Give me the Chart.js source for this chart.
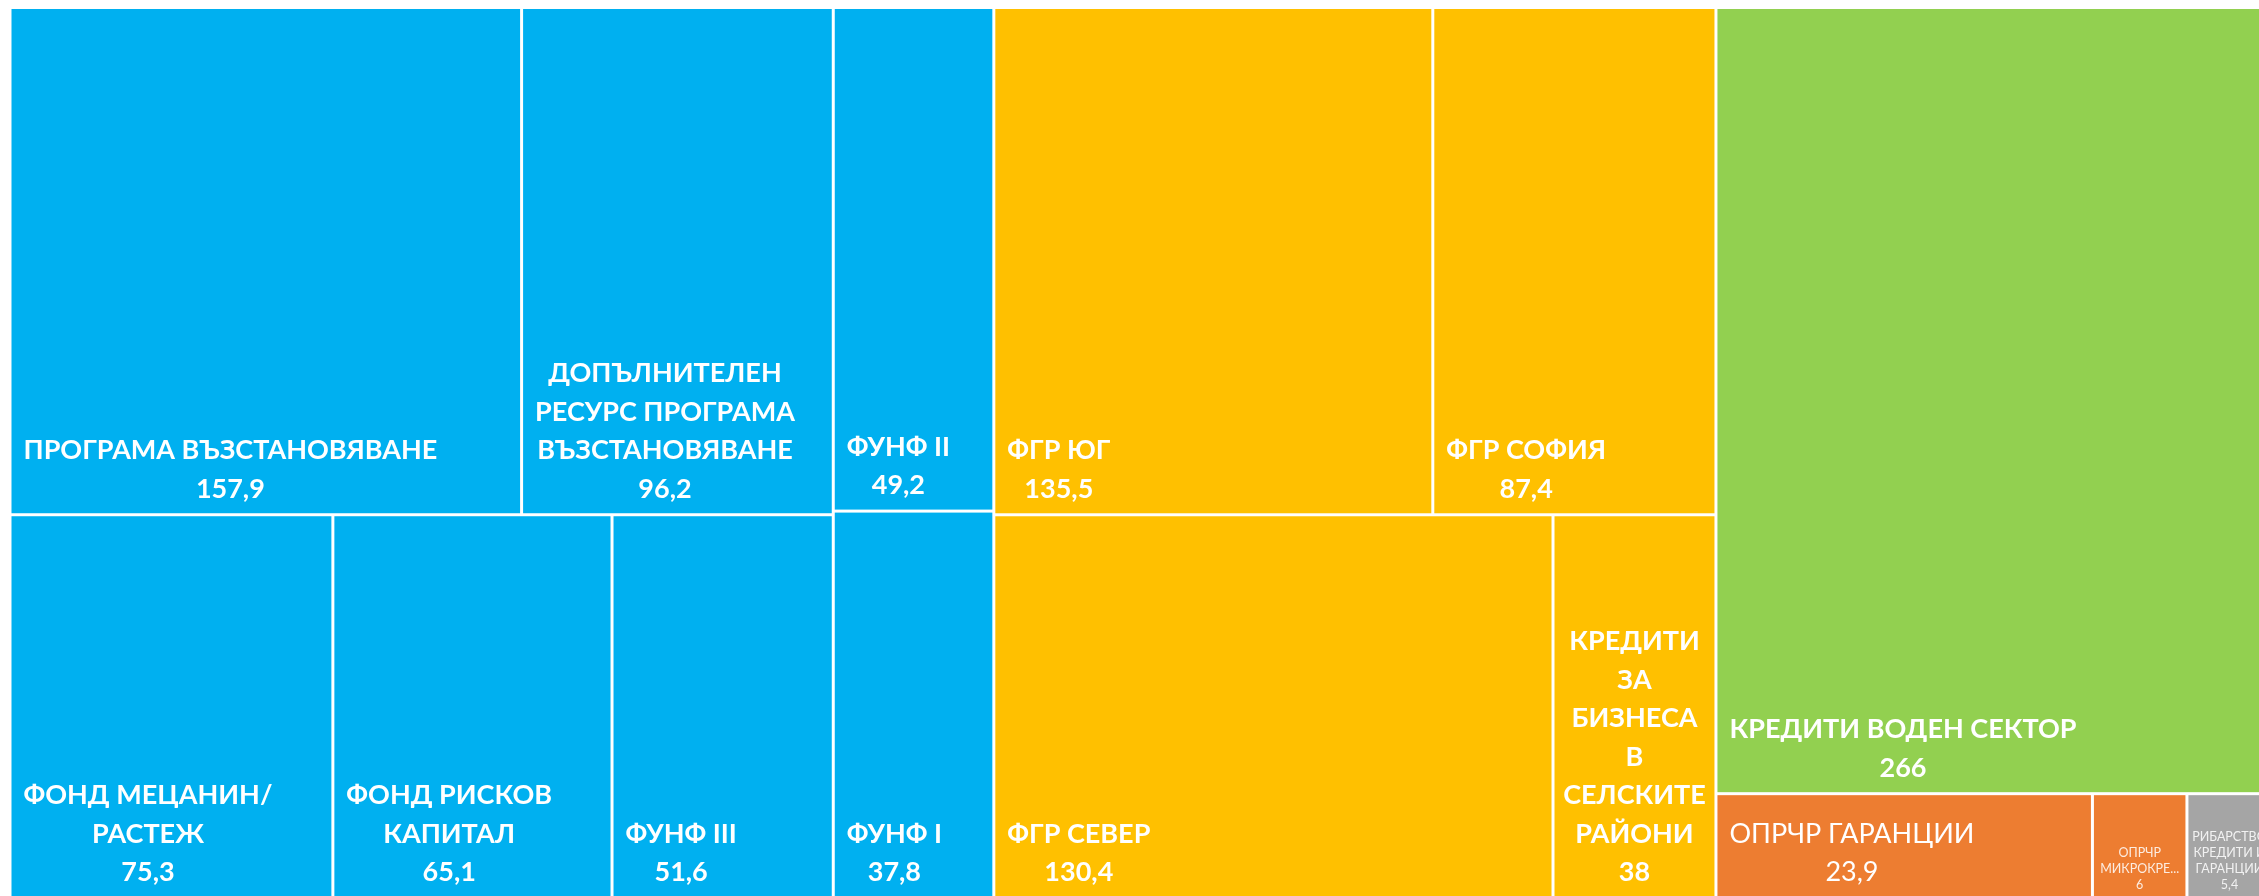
<!DOCTYPE html>
<html lang="bg">
<head>
<meta charset="utf-8">
<title>Treemap</title>
<script src="https://cdn.jsdelivr.net/npm/chart.js@4.4.1/dist/chart.umd.min.js"></script>
<style>
    html, body { margin: 0; padding: 0; background: #fff; overflow: hidden; }
    #wrap { position: absolute; left: 0; top: 0; width: 2272px; height: 898px; }
</style>
</head>
<body>
<div id="wrap"><canvas id="treemap"></canvas></div>
<script>
// Data
const labels = [
    'ПРОГРАМА ВЪЗСТАНОВЯВАНЕ',
    'ДОПЪЛНИТЕЛЕН РЕСУРС ПРОГРАМА ВЪЗСТАНОВЯВАНЕ',
    'ФУНФ II',
    'ФОНД МЕЦАНИН/ РАСТЕЖ',
    'ФОНД РИСКОВ КАПИТАЛ',
    'ФУНФ III',
    'ФУНФ I',
    'ФГР ЮГ',
    'ФГР СОФИЯ',
    'ФГР СЕВЕР',
    'КРЕДИТИ ЗА БИЗНЕСА В СЕЛСКИТЕ РАЙОНИ',
    'КРЕДИТИ ВОДЕН СЕКТОР',
    'ОПРЧР ГАРАНЦИИ',
    'ОПРЧР МИКРОКРЕДИТИ',
    'РИБАРСТВО КРЕДИТИ И ГАРАНЦИИ'
];
const values = [157.9, 96.2, 49.2, 75.3, 65.1, 51.6, 37.8, 135.5, 87.4, 130.4, 38, 266, 23.9, 6, 5.4];
const groups = [0, 0, 0, 0, 0, 0, 0, 1, 1, 1, 1, 2, 3, 3, 4];

const groupColors = ['#00B0F0', '#FFC000', '#92D050', '#ED7D31', '#A5A5A5'];
const groupWeight = ['bold', 'bold', 'bold', 'normal', 'normal'];

// how the cells are nested: 'h' = side by side, 'v' = stacked, numbers index the arrays above
const tree = { dir: 'h', kids: [
    { dir: 'h', kids: [
        { dir: 'v', kids: [{ dir: 'h', kids: [0, 1] }, { dir: 'h', kids: [3, 4, 5] }] },
        { dir: 'v', kids: [2, 6] }
    ] },
    { dir: 'v', kids: [{ dir: 'h', kids: [7, 8] }, { dir: 'h', kids: [9, 10] }] },
    { dir: 'v', kids: [11, { dir: 'h', kids: [12, 13, 14] }] }
] };

function sumOf(node) {
    return typeof node === 'number' ? values[node] : node.kids.reduce((s, k) => s + sumOf(k), 0);
}

const cells = [];
function place(node, x0, y0, x1, y1) {
    if (typeof node === 'number') {
        cells[node] = { x: (x0 + x1) / 2, y: (y0 + y1) / 2, x0, y0, x1, y1, idx: node };
        return;
    }
    const total = sumOf(node);
    let pos = node.dir === 'h' ? x0 : y0;
    node.kids.forEach(k => {
        const share = sumOf(k) / total;
        if (node.dir === 'h') {
            const w = (x1 - x0) * share;
            place(k, pos, y0, pos + w, y1);
            pos += w;
        } else {
            const h = (y1 - y0) * share;
            place(k, x0, pos, x1, pos + h);
            pos += h;
        }
    });
}
const grandTotal = sumOf(tree);
place(tree, 0, 0, grandTotal, 1);

function wrapText(ctx, text, maxW) {
    const lines = [];
    let cur = '';
    text.split(' ').forEach(w => {
        const t = cur ? cur + ' ' + w : w;
        if (!cur || ctx.measureText(t).width <= maxW) cur = t;
        else { lines.push(cur); cur = w; }
    });
    if (cur) lines.push(cur);
    return lines.map(l => {
        if (ctx.measureText(l).width <= maxW) return l;
        let s = l;
        while (s.length > 1 && ctx.measureText(s + '...').width > maxW) s = s.slice(0, -1);
        return s + '...';
    });
}

const treemapPlugin = {
    id: 'treemapCells',
    afterDatasetsDraw(chart) {
        const ctx = chart.ctx;
        const xs = chart.scales.x;
        const ys = chart.scales.y;
        chart.data.datasets[0].data.forEach(c => {
            const i = c.idx;
            const left = xs.getPixelForValue(c.x0) + 1.5;
            const right = xs.getPixelForValue(c.x1) - 1.5;
            const top = ys.getPixelForValue(c.y0) + 1.5;
            const bottom = ys.getPixelForValue(c.y1) - 1.5;
            const w = right - left;

            ctx.save();
            ctx.fillStyle = groupColors[groups[i]];
            ctx.fillRect(left, top, w, bottom - top);
            ctx.beginPath();
            ctx.rect(left, top, w, bottom - top);
            ctx.clip();

            const small = w < 120;
            const size = small ? 12.5 : 27;
            const lineH = small ? 16 : 38.5;
            const pad = small ? 3.5 : 8;
            const offset = small ? 12 : 24;
            ctx.font = (small ? 'normal' : groupWeight[groups[i]]) + ' ' + size + 'px Lato';
            ctx.fillStyle = small ? 'rgba(255,255,255,0.85)' : '#ffffff';
            ctx.textAlign = 'center';
            ctx.textBaseline = 'middle';

            const lines = wrapText(ctx, labels[i], w - 2 * pad);
            lines.push(String(values[i]).replace('.', ','));
            const blockW = Math.min(Math.max(...lines.map(l => ctx.measureText(l).width)), w - 2 * pad);
            const cx = left + Math.min(12, (w - blockW) / 2) + blockW / 2;
            lines.forEach((l, n) => {
                const y = bottom - offset - (lines.length - 1 - n) * lineH;
                ctx.fillText(l, cx, y);
            });
            ctx.restore();
        });
    }
};

new Chart(document.getElementById('treemap').getContext('2d'), {
    type: 'scatter',
    data: {
        datasets: [{
            label: 'Treemap',
            data: cells,
            pointRadius: 0,
            pointHoverRadius: 0,
            borderWidth: 0,
            backgroundColor: cells.map(c => groupColors[groups[c.idx]])
        }]
    },
    options: {
        responsive: true,
        maintainAspectRatio: false,
        animation: false,
        layout: { padding: { left: 10, top: 7.5, right: 0, bottom: 0 } },
        scales: {
            x: { type: 'linear', min: 0, max: grandTotal, display: false },
            y: { type: 'linear', min: 0, max: 1, reverse: true, display: false }
        },
        plugins: {
            legend: { display: false },
            tooltip: { enabled: false }
        }
    },
    plugins: [treemapPlugin]
});
</script>
</body>
</html>
